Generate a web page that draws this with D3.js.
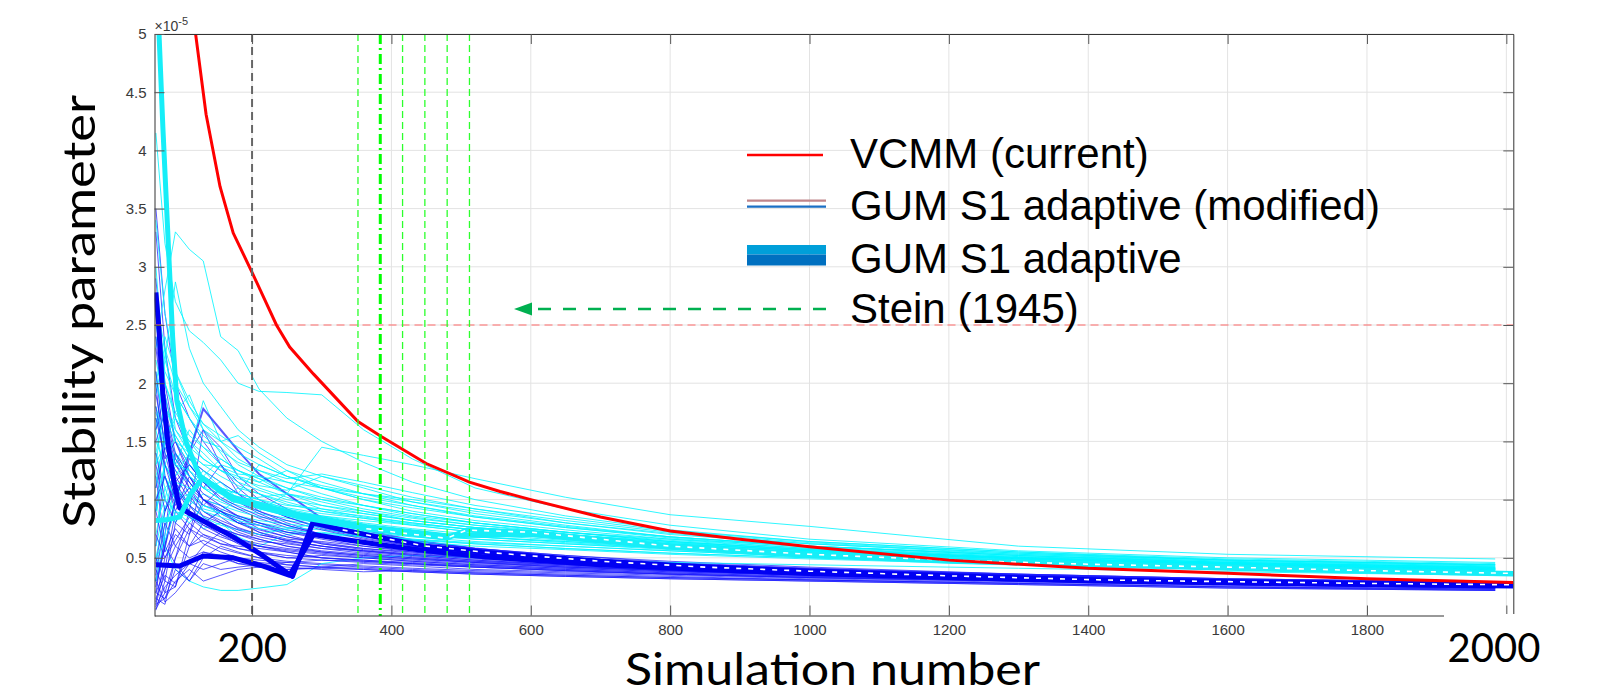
<!DOCTYPE html>
<html>
<head>
<meta charset="utf-8">
<script src="https://cdn.jsdelivr.net/npm/d3@7/dist/d3.min.js"></script>
<style>
  body { margin: 0; background: #fff; }
  svg { display: block; }
</style>
</head>
<body>
<svg width="1597" height="695"></svg>
<script>
// =============================
// STABILITY PARAMETER vs SIMULATION NUMBER
// values are in units of 1e-5
// =============================

// ####################
// # DATA             #
// ####################
var xSamples = [62, 75, 90, 110, 130, 155, 180, 210, 250, 300, 360, 430, 520, 650, 800, 1000, 1300, 1600, 1984];

// thin cyan runs (GUM S1 adaptive, modified)
var cyanRuns = [
  [4.15, 3.2, 2.7, 2.45, 2.35, 2.2, 2.0, 1.93, 1.92, 1.9, 1.6, 1.35, 1.1, 0.92, 0.78, 0.66, 0.56, 0.5, 0.46],
  [2.3, 2.8, 3.3, 3.15, 3.05, 2.4, 2.28, 1.95, 1.7, 1.5, 1.32, 1.15, 1.0, 0.86, 0.74, 0.64, 0.55, 0.48, 0.44],
  [1.6, 2.2, 2.87, 2.3, 2.0, 1.8, 1.6, 1.45, 1.3, 1.2, 1.1, 0.98, 0.88, 0.78, 0.68, 0.6, 0.52, 0.46, 0.42],
  [2.5, 2.1, 1.9, 1.7, 1.5, 1.45, 1.3, 1.2, 1.1, 1.0, 0.92, 0.85, 0.78, 0.7, 0.62, 0.56, 0.5, 0.45, 0.41],
  [1.9, 2.3, 1.6, 1.4, 1.85, 1.5, 1.35, 1.25, 1.15, 1.05, 0.95, 0.86, 0.8, 0.72, 0.64, 0.57, 0.5, 0.44, 0.4],
  [1.2, 1.5, 1.75, 1.9, 1.6, 1.4, 1.2, 1.1, 1.02, 0.92, 0.85, 0.8, 0.74, 0.68, 0.6, 0.54, 0.48, 0.43, 0.4],
  [0.9, 1.2, 1.0, 1.3, 1.15, 1.05, 1.0, 0.95, 0.88, 0.82, 0.78, 0.72, 0.68, 0.64, 0.58, 0.52, 0.46, 0.42, 0.38],
  [3.0, 2.0, 1.7, 1.5, 1.4, 1.25, 1.2, 1.15, 1.25, 1.1, 1.02, 0.95, 0.85, 0.76, 0.67, 0.59, 0.51, 0.46, 0.42],
  [0.5, 0.9, 1.3, 1.6, 1.45, 1.3, 1.25, 1.18, 1.05, 0.98, 0.9, 0.82, 0.76, 0.7, 0.63, 0.57, 0.5, 0.45, 0.41],
  [2.2, 1.8, 1.55, 1.35, 1.25, 1.1, 1.05, 1.0, 0.92, 0.86, 0.8, 0.75, 0.7, 0.65, 0.6, 0.55, 0.49, 0.44, 0.4],
  [1.4, 1.1, 0.85, 0.95, 1.05, 0.98, 0.92, 0.88, 0.84, 0.8, 0.74, 0.7, 0.66, 0.62, 0.57, 0.52, 0.47, 0.42, 0.38],
  [0.3, 0.7, 1.15, 0.9, 0.75, 0.8, 0.68, 0.6, 0.7, 0.72, 0.68, 0.65, 0.62, 0.58, 0.54, 0.5, 0.45, 0.41, 0.37],
  [1.0, 0.6, 0.4, 0.3, 0.25, 0.22, 0.22, 0.24, 0.27, 0.45, 0.5, 0.52, 0.5, 0.48, 0.46, 0.44, 0.41, 0.38, 0.35],
  [1.7, 1.4, 1.25, 1.15, 1.0, 0.95, 0.9, 0.85, 0.82, 0.78, 0.72, 0.68, 0.64, 0.6, 0.56, 0.51, 0.46, 0.42, 0.39],
  [2.0, 2.4, 2.1, 1.8, 1.6, 1.5, 1.55, 1.4, 1.25, 1.15, 1.05, 0.95, 0.86, 0.77, 0.68, 0.6, 0.52, 0.47, 0.43],
  [1.1, 1.6, 1.4, 1.2, 1.1, 1.15, 1.05, 1.3, 1.2, 1.1, 1.0, 0.9, 0.82, 0.74, 0.66, 0.58, 0.5, 0.45, 0.41],
  [0.8, 1.0, 1.4, 1.25, 1.1, 1.0, 0.95, 0.9, 1.05, 1.0, 0.95, 0.88, 0.8, 0.72, 0.65, 0.58, 0.51, 0.46, 0.42],
  [1.5, 1.3, 1.15, 1.1, 0.95, 0.9, 0.84, 0.8, 0.76, 0.74, 0.7, 0.66, 0.62, 0.58, 0.54, 0.5, 0.45, 0.41, 0.37],
  [2.7, 2.3, 2.0, 1.8, 1.65, 1.55, 1.45, 1.35, 1.2, 1.12, 1.05, 1.0, 0.92, 0.8, 0.7, 0.62, 0.54, 0.48, 0.44],
  [0.6, 0.95, 0.8, 1.0, 0.9, 0.85, 0.8, 0.75, 0.72, 0.7, 0.68, 0.64, 0.6, 0.57, 0.53, 0.49, 0.44, 0.4, 0.36],
  [1.3, 1.9, 1.5, 1.3, 1.2, 1.35, 1.25, 1.15, 1.05, 0.95, 0.88, 0.82, 0.76, 0.7, 0.63, 0.56, 0.49, 0.44, 0.4],
  [2.1, 1.6, 1.3, 1.2, 1.1, 1.0, 1.1, 1.05, 0.98, 0.9, 0.84, 0.78, 0.72, 0.67, 0.61, 0.55, 0.49, 0.44, 0.4],
  [0.4, 0.8, 1.0, 1.1, 1.25, 1.15, 1.0, 0.92, 0.86, 0.82, 0.76, 0.72, 0.68, 0.63, 0.58, 0.53, 0.47, 0.43, 0.39],
  [1.8, 1.5, 1.7, 1.5, 1.35, 1.25, 1.15, 1.08, 1.0, 0.95, 0.9, 0.84, 0.78, 0.72, 0.66, 0.6, 0.53, 0.47, 0.43],
  [1.0, 1.3, 1.1, 0.95, 0.85, 0.78, 0.74, 0.7, 0.75, 0.8, 0.76, 0.72, 0.68, 0.64, 0.6, 0.55, 0.49, 0.44, 0.4],
  [2.4, 2.0, 1.75, 1.55, 1.45, 1.35, 1.25, 1.18, 1.1, 1.02, 0.95, 0.88, 0.8, 0.72, 0.64, 0.57, 0.5, 0.45, 0.41],
  [1.6, 1.2, 1.0, 1.05, 0.92, 0.88, 0.86, 0.82, 0.79, 0.76, 0.73, 0.7, 0.66, 0.62, 0.58, 0.53, 0.48, 0.43, 0.39],
  [0.7, 1.1, 1.2, 1.4, 1.3, 1.2, 1.12, 1.05, 0.96, 0.9, 0.86, 0.8, 0.74, 0.68, 0.62, 0.56, 0.5, 0.45, 0.41],
  [1.3, 1.5, 1.35, 1.2, 1.1, 1.05, 1.0, 1.02, 1.05, 1.45, 1.38, 1.3, 1.18, 1.02, 0.87, 0.77, 0.6, 0.53, 0.49],
  [2.0, 1.7, 1.5, 1.4, 1.3, 1.28, 1.22, 1.2, 1.15, 1.1, 1.05, 0.98, 0.9, 0.8, 0.71, 0.62, 0.53, 0.48, 0.44],
  [1.4, 1.8, 1.6, 1.45, 1.35, 1.25, 1.18, 1.12, 1.08, 1.2, 1.12, 1.02, 0.92, 0.82, 0.72, 0.63, 0.54, 0.48, 0.44],
  [3.4, 2.6, 2.1, 1.85, 1.65, 1.5, 1.4, 1.3, 1.2, 1.1, 1.0, 0.93, 0.85, 0.76, 0.68, 0.6, 0.52, 0.46, 0.42],
  [0.9, 1.3, 1.55, 1.35, 1.2, 1.1, 1.05, 1.0, 0.95, 0.92, 0.88, 0.82, 0.76, 0.7, 0.64, 0.57, 0.5, 0.45, 0.41],
  [1.2, 1.0, 0.9, 0.85, 0.8, 0.9, 1.0, 0.95, 0.9, 0.86, 0.82, 0.78, 0.72, 0.66, 0.6, 0.54, 0.48, 0.43, 0.39],
  [2.6, 2.2, 1.9, 1.7, 1.55, 1.42, 1.32, 1.25, 1.18, 1.22, 1.15, 1.06, 0.95, 0.84, 0.73, 0.64, 0.55, 0.49, 0.45],
  [0.5, 0.65, 0.9, 0.8, 0.95, 0.88, 0.82, 0.78, 0.74, 0.71, 0.69, 0.66, 0.63, 0.6, 0.56, 0.51, 0.46, 0.42, 0.38],
  [1.75, 1.45, 1.3, 1.25, 1.15, 1.08, 1.02, 0.98, 0.93, 0.88, 0.84, 0.79, 0.74, 0.68, 0.62, 0.56, 0.5, 0.45, 0.41]
];

// thin blue runs (GUM S1 adaptive, modified)
var blueRuns = [
  [3.5, 2.6, 2.0, 1.7, 1.5, 1.3, 1.15, 1.0, 0.88, 0.78, 0.7, 0.64, 0.58, 0.52, 0.47, 0.42, 0.36, 0.32, 0.29],
  [3.3, 2.3, 1.7, 1.4, 1.6, 1.45, 1.2, 1.05, 0.92, 0.8, 0.72, 0.65, 0.58, 0.52, 0.46, 0.41, 0.35, 0.31, 0.28],
  [2.9, 2.0, 1.5, 1.25, 1.1, 1.3, 1.1, 0.95, 0.85, 0.76, 0.68, 0.62, 0.56, 0.5, 0.45, 0.4, 0.35, 0.31, 0.28],
  [0.1, 0.4, 0.9, 1.2, 1.0, 0.85, 0.75, 0.7, 0.65, 0.6, 0.56, 0.52, 0.48, 0.44, 0.4, 0.36, 0.32, 0.29, 0.26],
  [0.05, 0.3, 0.25, 0.6, 0.8, 0.7, 0.62, 0.55, 0.5, 0.52, 0.5, 0.47, 0.44, 0.41, 0.38, 0.35, 0.31, 0.28, 0.25],
  [0.2, 0.7, 1.4, 1.1, 0.9, 0.8, 0.72, 0.66, 0.6, 0.56, 0.53, 0.5, 0.46, 0.43, 0.39, 0.36, 0.32, 0.29, 0.26],
  [1.9, 1.5, 1.2, 1.0, 0.9, 0.82, 0.76, 0.7, 0.65, 0.6, 0.55, 0.51, 0.47, 0.43, 0.39, 0.36, 0.32, 0.29, 0.26],
  [0.15, 0.1, 0.5, 0.9, 1.6, 1.3, 1.05, 0.9, 0.8, 0.7, 0.63, 0.58, 0.53, 0.48, 0.43, 0.39, 0.34, 0.3, 0.27],
  [1.2, 0.6, 0.45, 0.3, 0.5, 0.6, 0.55, 0.5, 0.47, 0.45, 0.43, 0.41, 0.39, 0.37, 0.35, 0.32, 0.29, 0.26, 0.23],
  [0.3, 0.6, 1.0, 1.4, 1.78, 1.6, 1.42, 1.22, 1.05, 0.84, 0.74, 0.65, 0.58, 0.5, 0.45, 0.4, 0.35, 0.31, 0.28],
  [2.3, 1.7, 1.3, 1.1, 0.95, 0.9, 0.8, 0.74, 0.68, 0.63, 0.58, 0.54, 0.5, 0.45, 0.41, 0.37, 0.33, 0.3, 0.27],
  [0.08, 0.25, 0.35, 0.45, 0.4, 0.45, 0.5, 0.48, 0.46, 0.44, 0.42, 0.4, 0.38, 0.36, 0.34, 0.31, 0.28, 0.25, 0.22],
  [1.6, 1.9, 1.5, 1.3, 1.15, 1.0, 0.92, 0.84, 0.76, 0.7, 0.64, 0.58, 0.53, 0.48, 0.44, 0.39, 0.35, 0.31, 0.28],
  [0.4, 0.2, 0.25, 0.7, 1.0, 0.95, 0.85, 0.75, 0.68, 0.62, 0.57, 0.53, 0.49, 0.45, 0.41, 0.37, 0.33, 0.3, 0.27],
  [0.6, 1.3, 1.1, 0.9, 0.78, 0.7, 0.64, 0.6, 0.56, 0.53, 0.5, 0.47, 0.44, 0.41, 0.38, 0.35, 0.31, 0.28, 0.25],
  [0.12, 0.5, 0.7, 0.6, 0.65, 0.58, 0.54, 0.5, 0.44, 0.42, 0.45, 0.43, 0.4, 0.38, 0.36, 0.33, 0.3, 0.27, 0.24],
  [1.4, 1.0, 0.8, 0.7, 1.2, 1.1, 0.98, 0.88, 0.78, 0.7, 0.64, 0.59, 0.54, 0.49, 0.44, 0.4, 0.35, 0.31, 0.28],
  [0.25, 0.6, 1.0, 1.35, 1.25, 1.15, 1.05, 0.95, 0.85, 0.75, 0.67, 0.6, 0.55, 0.5, 0.45, 0.4, 0.35, 0.31, 0.28],
  [2.0, 1.2, 0.9, 0.75, 0.68, 0.62, 0.58, 0.55, 0.52, 0.5, 0.48, 0.46, 0.43, 0.4, 0.37, 0.34, 0.3, 0.27, 0.24],
  [0.9, 1.6, 1.3, 1.15, 1.0, 0.9, 0.82, 0.72, 0.66, 0.64, 0.6, 0.56, 0.52, 0.47, 0.43, 0.39, 0.34, 0.3, 0.27],
  [0.1, 0.15, 0.3, 0.4, 0.3, 0.35, 0.4, 0.42, 0.4, 0.42, 0.4, 0.38, 0.36, 0.34, 0.32, 0.3, 0.27, 0.24, 0.22],
  [1.7, 1.35, 1.5, 1.2, 1.0, 0.88, 0.8, 0.78, 0.72, 0.66, 0.6, 0.55, 0.5, 0.46, 0.42, 0.38, 0.34, 0.3, 0.27],
  [0.5, 0.3, 0.8, 1.05, 0.85, 0.75, 0.7, 0.66, 0.6, 0.55, 0.52, 0.49, 0.46, 0.42, 0.39, 0.35, 0.31, 0.28, 0.25],
  [1.1, 1.45, 1.25, 1.05, 0.95, 1.1, 0.98, 0.9, 0.82, 0.74, 0.66, 0.6, 0.55, 0.5, 0.45, 0.4, 0.36, 0.32, 0.29],
  [0.2, 0.4, 0.6, 0.8, 0.7, 0.62, 0.6, 0.58, 0.55, 0.5, 0.48, 0.45, 0.42, 0.39, 0.36, 0.33, 0.3, 0.27, 0.24],
  [2.6, 1.8, 1.4, 1.2, 1.05, 0.95, 0.86, 0.8, 0.74, 0.68, 0.62, 0.57, 0.52, 0.47, 0.43, 0.39, 0.34, 0.31, 0.28],
  [0.35, 0.8, 0.6, 0.5, 0.55, 0.5, 0.45, 0.44, 0.42, 0.4, 0.38, 0.39, 0.37, 0.35, 0.33, 0.31, 0.28, 0.25, 0.23],
  [1.3, 0.9, 1.1, 0.95, 0.86, 0.8, 0.74, 0.68, 0.63, 0.58, 0.54, 0.5, 0.47, 0.44, 0.4, 0.36, 0.32, 0.29, 0.26],
  [0.06, 0.2, 0.5, 0.75, 0.62, 0.55, 0.5, 0.46, 0.44, 0.42, 0.41, 0.39, 0.37, 0.35, 0.33, 0.31, 0.28, 0.25, 0.23],
  [2.1, 1.4, 1.05, 0.85, 0.78, 0.72, 0.66, 0.62, 0.58, 0.55, 0.52, 0.49, 0.46, 0.42, 0.39, 0.35, 0.31, 0.28, 0.25],
  [0.3, 0.12, 0.2, 0.35, 0.55, 0.52, 0.45, 0.42, 0.4, 0.41, 0.4, 0.38, 0.36, 0.34, 0.32, 0.3, 0.27, 0.24, 0.22],
  [1.5, 1.75, 1.35, 1.15, 1.0, 0.92, 0.86, 0.8, 0.72, 0.68, 0.62, 0.57, 0.52, 0.48, 0.43, 0.39, 0.34, 0.3, 0.27],
  [0.7, 0.5, 0.65, 0.85, 0.75, 0.68, 0.63, 0.6, 0.57, 0.54, 0.51, 0.48, 0.45, 0.42, 0.39, 0.36, 0.32, 0.29, 0.26],
  [0.15, 0.35, 0.28, 0.45, 0.6, 0.72, 0.66, 0.6, 0.55, 0.5, 0.47, 0.45, 0.43, 0.4, 0.37, 0.34, 0.31, 0.28, 0.25],
  [1.0, 1.2, 0.95, 1.1, 1.0, 0.9, 0.84, 0.78, 0.7, 0.62, 0.58, 0.55, 0.51, 0.47, 0.43, 0.39, 0.35, 0.31, 0.28],
  [0.45, 0.9, 1.15, 0.95, 0.8, 0.9, 0.8, 0.72, 0.64, 0.6, 0.56, 0.53, 0.5, 0.46, 0.42, 0.38, 0.34, 0.3, 0.27],
  [0.2, 0.15, 0.4, 0.3, 0.45, 0.4, 0.42, 0.44, 0.46, 0.48, 0.47, 0.45, 0.42, 0.39, 0.36, 0.33, 0.3, 0.27, 0.24],
  [1.8, 1.3, 1.0, 0.9, 0.82, 0.75, 0.7, 0.64, 0.62, 0.58, 0.56, 0.52, 0.48, 0.44, 0.4, 0.37, 0.33, 0.29, 0.26],
  [0.9, 0.55, 0.75, 0.6, 0.7, 0.65, 0.58, 0.54, 0.5, 0.48, 0.46, 0.44, 0.42, 0.39, 0.36, 0.33, 0.3, 0.27, 0.24],
  [2.4, 1.6, 1.15, 1.3, 1.15, 1.02, 0.94, 0.86, 0.78, 0.7, 0.64, 0.59, 0.54, 0.49, 0.45, 0.41, 0.36, 0.32, 0.29]
];

// thick runs (GUM S1 adaptive), [x, value]
var thickBlueTop = [[62, 2.78], [66, 2.5], [72, 1.9], [80, 1.45], [88, 1.15], [96, 0.93], [135, 0.8], [173, 0.68], [215, 0.52], [258, 0.34], [287, 0.8], [330, 0.74], [387, 0.67], [450, 0.6], [530, 0.55], [700, 0.47], [850, 0.42], [1000, 0.385], [1200, 0.345], [1417, 0.31], [1600, 0.295], [1800, 0.28], [2010, 0.268]];
var thickBlueLow = [[62, 0.44], [96, 0.43], [130, 0.515], [173, 0.5], [215, 0.43], [254, 0.35], [288, 0.7], [330, 0.66], [387, 0.61], [450, 0.56], [530, 0.51], [700, 0.44], [850, 0.4], [1000, 0.365], [1200, 0.33], [1417, 0.3], [1600, 0.285], [1800, 0.27], [2010, 0.258]];
var thickCyanTop = [[63, 5.6], [66.5, 5.0], [72, 4.2], [79, 3.3], [86, 2.4], [92, 1.85], [105, 1.5], [125, 1.2], [172, 1.02], [268, 0.87], [364, 0.77], [479, 0.69], [600, 0.7], [800, 0.59], [1000, 0.52], [1200, 0.47], [1400, 0.44], [1600, 0.41], [1800, 0.385], [2010, 0.36]];
var thickCyanLow = [[62, 0.82], [80, 0.83], [96, 0.85], [112, 1.05], [129, 1.185], [172, 1.0], [268, 0.85], [364, 0.75], [479, 0.667], [508, 0.738], [600, 0.72], [800, 0.6], [1000, 0.53], [1200, 0.48], [1400, 0.445], [1600, 0.42], [1800, 0.39], [2010, 0.366]];

// VCMM (current)
var vcmmX = [105, 119, 134, 154, 173, 201, 235, 254, 288, 352, 386, 450, 512, 556, 600, 700, 800, 900, 1000, 1200, 1400, 1600, 1800, 2010];
var vcmmY = [5.6, 5.0, 4.31, 3.69, 3.29, 2.94, 2.5, 2.31, 2.08, 1.67, 1.54, 1.31, 1.15, 1.07, 1.0, 0.85, 0.73, 0.66, 0.595, 0.48, 0.41, 0.367, 0.32, 0.287];

// reference lines
var steinMain = 384;
var steinOthers = [352, 416, 448, 480, 512];
var markerX = 200;
var limitY = 2.5;

// ticks
var xTicks = [200, 400, 600, 800, 1000, 1200, 1400, 1600, 1800, 2000];
var yTicks = [0.5, 1, 1.5, 2, 2.5, 3, 3.5, 4, 4.5, 5];

var legendLabels = ["VCMM (current)", "GUM S1 adaptive (modified)", "GUM S1 adaptive", "Stein (1945)"];

// ########
// # MAIN #
// ########
var svg = d3.select("svg");
var pLeft = 154.5, pRight = 1513.3, pTop = 34, pBottom = 616;

var x = d3.scaleLinear().domain([60, 2010]).range([pLeft, pRight]);
var y = d3.scaleLinear().domain([0, 5]).range([pBottom, pTop]);

svg.append("defs").append("clipPath").attr("id", "plotclip")
  .append("rect")
  .attr("x", pLeft).attr("y", pTop)
  .attr("width", pRight - pLeft).attr("height", pBottom - pTop);

// grid
var grid = svg.append("g").attr("stroke", "#e3e3e3").attr("stroke-width", 1);
grid.selectAll("line.gx").data(xTicks).enter().append("line")
  .attr("x1", function (d) { return x(d); }).attr("x2", function (d) { return x(d); })
  .attr("y1", pTop).attr("y2", pBottom);
grid.selectAll("line.gy").data(yTicks).enter().append("line")
  .attr("x1", pLeft).attr("x2", pRight)
  .attr("y1", function (d) { return y(d); }).attr("y2", function (d) { return y(d); });

var plot = svg.append("g").attr("clip-path", "url(#plotclip)");

var line = d3.line()
  .x(function (d) { return x(d[0]); })
  .y(function (d) { return y(d[1]); });

function zipRun(vals) {
  return vals.map(function (v, i) { return [xSamples[i], v]; });
}

// thin runs, blue and cyan drawn turn about
var thinRuns = [];
for (var i = 0; i < Math.max(blueRuns.length, cyanRuns.length); i++) {
  if (blueRuns[i]) thinRuns.push({ kind: "blue", idx: i, vals: blueRuns[i] });
  if (cyanRuns[i]) thinRuns.push({ kind: "cyan", idx: i, vals: cyanRuns[i] });
}

plot.append("g").selectAll("path")
  .data(thinRuns).enter().append("path")
  .attr("d", function (d) { return line(zipRun(d.vals)); })
  .attr("fill", "none")
  .attr("stroke", function (d) { return d.kind == "blue" ? "#1a1aff" : "#00f4ff"; })
  .attr("stroke-opacity", function (d) { return d.kind == "blue" ? 0.72 : 0.82; })
  .attr("stroke-width", function (d) { return (d.kind == "blue" && d.idx == 9) ? 2 : 1; });

// thick runs
[thickBlueLow, thickBlueTop].forEach(function (run) {
  plot.append("path").attr("d", line(run))
    .attr("fill", "none").attr("stroke", "#0000f2")
    .attr("stroke-width", 5).attr("stroke-linejoin", "round");
});
[thickCyanLow, thickCyanTop].forEach(function (run) {
  plot.append("path").attr("d", line(run))
    .attr("fill", "none").attr("stroke", "#16eef8")
    .attr("stroke-width", 5).attr("stroke-linejoin", "round");
});
// white dashes running along the thick lines
[thickBlueTop, thickCyanLow].forEach(function (run) {
  plot.append("path").attr("d", line(run.filter(function (p) { return p[0] >= 330; })))
    .attr("fill", "none").attr("stroke", "#fff")
    .attr("stroke-width", 1.6).attr("stroke-dasharray", "5,7");
});

// limit line
plot.append("line")
  .attr("x1", pLeft).attr("x2", pRight)
  .attr("y1", y(limitY)).attr("y2", y(limitY))
  .attr("stroke", "#ff6a6a").attr("stroke-width", 1).attr("stroke-dasharray", "8,5");

// VCMM
plot.append("path")
  .attr("d", line(vcmmX.map(function (v, i) { return [v, vcmmY[i]]; })))
  .attr("fill", "none").attr("stroke", "#ff0000").attr("stroke-width", 3);

// vertical markers
plot.append("line")
  .attr("x1", x(markerX)).attr("x2", x(markerX)).attr("y1", pTop).attr("y2", pBottom)
  .attr("stroke", "#666").attr("stroke-width", 2).attr("stroke-dasharray", "8,5");
plot.selectAll("line.stein").data(steinOthers).enter().append("line")
  .attr("x1", function (d) { return x(d); }).attr("x2", function (d) { return x(d); })
  .attr("y1", pTop).attr("y2", pBottom)
  .attr("stroke", "#2cff2c").attr("stroke-width", 1.3).attr("stroke-dasharray", "7,4");
plot.append("line")
  .attr("x1", x(steinMain)).attr("x2", x(steinMain)).attr("y1", pTop).attr("y2", pBottom)
  .attr("stroke", "#00ff00").attr("stroke-width", 3).attr("stroke-dasharray", "10,4,2,4");

// ####################
// # AXES             #
// ####################
function styleAxis(g) {
  g.selectAll("path").attr("stroke", "#333");
  g.selectAll("line").attr("stroke", "#555");
  g.selectAll("text").attr("fill", "#3a3a3a")
    .style("font-family", "'Liberation Sans', Arial, sans-serif").style("font-size", "15px");
}

svg.append("g").attr("transform", "translate(0," + (pBottom - 0.5) + ")")
  .call(d3.axisBottom(x).tickValues(xTicks).tickSizeInner(-10).tickSizeOuter(0).tickPadding(9)
    .tickFormat(function (d) { return (d == 200 || d == 2000) ? "" : d; }))
  .call(styleAxis);
svg.append("g").attr("transform", "translate(0," + pTop + ")")
  .call(d3.axisTop(x).tickValues(xTicks).tickSizeInner(-10).tickSizeOuter(0).tickFormat(""))
  .call(styleAxis);
svg.append("g").attr("transform", "translate(" + pLeft + ",0)")
  .call(d3.axisLeft(y).tickValues(yTicks).tickSizeInner(-10).tickSizeOuter(0).tickPadding(8)
    .tickFormat(function (d) { return String(d); }))
  .call(styleAxis);
svg.append("g").attr("transform", "translate(" + pRight + ",0)")
  .call(d3.axisRight(y).tickValues(yTicks).tickSizeInner(-10).tickSizeOuter(0).tickFormat(""))
  .call(styleAxis);

var expo = svg.append("text").attr("x", pLeft).attr("y", 31)
  .attr("fill", "#3a3a3a")
  .style("font-family", "'Liberation Sans', Arial, sans-serif").style("font-size", "14px");
expo.append("tspan").text("\u00d710");
expo.append("tspan").attr("dy", -6).style("font-size", "11px").text("-5");

// ####################
// # LEGEND           #
// ####################
var lg = svg.append("g");
var symX0 = 747, symX1 = 826, textX = 850;
var baselines = [168, 219.5, 272.5, 323];

lg.append("line").attr("x1", symX0).attr("x2", symX1 - 3).attr("y1", 155).attr("y2", 155)
  .attr("stroke", "#ff0000").attr("stroke-width", 2.5);
lg.append("line").attr("x1", symX0).attr("x2", symX1).attr("y1", 200.7).attr("y2", 200.7)
  .attr("stroke", "#c0858a").attr("stroke-width", 2.2);
lg.append("line").attr("x1", symX0).attr("x2", symX1).attr("y1", 206.7).attr("y2", 206.7)
  .attr("stroke", "#1a6fc4").attr("stroke-width", 2.2);
lg.append("rect").attr("x", symX0).attr("y", 245).attr("width", symX1 - symX0).attr("height", 9.5)
  .attr("fill", "#009fd9");
lg.append("rect").attr("x", symX0).attr("y", 254.5).attr("width", symX1 - symX0).attr("height", 11)
  .attr("fill", "#0070c0");
lg.append("line").attr("x1", symX1).attr("x2", 530).attr("y1", 309).attr("y2", 309)
  .attr("stroke", "#00b050").attr("stroke-width", 2.6).attr("stroke-dasharray", "13,12");
lg.append("path").attr("d", "M514,309 L532,302.5 L532,315.5 Z").attr("fill", "#00b050");

lg.selectAll("text").data(legendLabels).enter().append("text")
  .attr("x", textX).attr("y", function (d, i) { return baselines[i]; })
  .attr("fill", "#000")
  .style("font-family", "'Liberation Sans', Arial, sans-serif").style("font-size", "42px")
  .text(function (d) { return d; });

// ####################
// # BIG LABELS       #
// ####################
svg.append("rect").attr("x", 1444).attr("y", 614).attr("width", 153).attr("height", 81).attr("fill", "#fff");

var bigFont = "Lato, 'Open Sans', sans-serif";
svg.append("text").attr("x", x(200)).attr("y", 662).attr("text-anchor", "middle")
  .style("font-family", bigFont).style("font-size", "40px").text("200");
svg.append("text").attr("x", 1494).attr("y", 662).attr("text-anchor", "middle")
  .style("font-family", bigFont).style("font-size", "40px").text("2000");
svg.append("text").attr("x", 625).attr("y", 685)
  .attr("textLength", 415).attr("lengthAdjust", "spacingAndGlyphs")
  .style("font-family", bigFont).style("font-size", "45px").text("Simulation number");
svg.append("text").attr("transform", "translate(95,528) rotate(-90)")
  .attr("textLength", 433).attr("lengthAdjust", "spacingAndGlyphs")
  .style("font-family", bigFont).style("font-size", "44px").text("Stability parameter");
</script>
</body>
</html>
